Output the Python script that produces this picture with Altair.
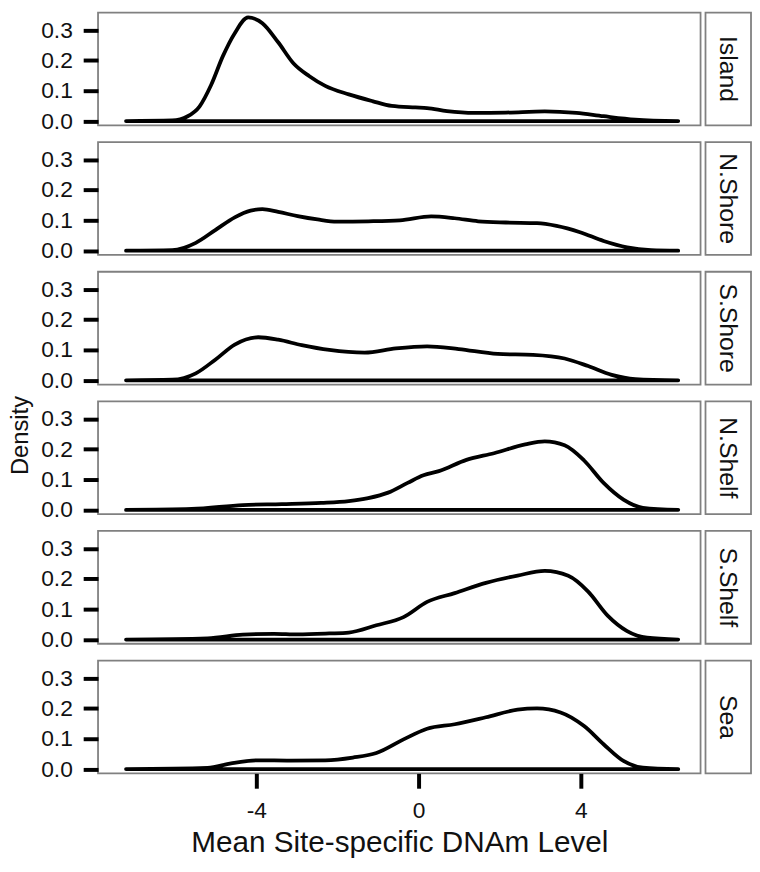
import altair as alt
import pandas as pd

FONT = "Liberation Sans"

groups = ["Island", "N.Shore", "S.Shore", "N.Shelf", "S.Shelf", "Sea"]

island_x = [-7.21, -6.07, -5.69, -5.40, -5.11, -4.82, -4.53, -4.20, -3.85, -3.46, -3.08, -2.69,
            -2.30, -1.72, -1.14, -0.66, -0.08, 0.21, 0.70, 1.37, 2.15, 3.11, 3.89, 4.56, 5.34, 6.40]
island_y = [0.0, 0.002, 0.016, 0.048, 0.12, 0.215, 0.29, 0.342, 0.323, 0.26, 0.19, 0.148,
            0.116, 0.088, 0.066, 0.050, 0.045, 0.043, 0.033, 0.027, 0.028, 0.032, 0.027, 0.016, 0.005, 0.0]

nshore_x = [-7.21, -6.07, -5.49, -5.01, -4.53, -4.14, -3.85, -3.46, -2.98, -2.49, -2.01, -1.24,
            -0.46, 0.31, 0.89, 1.47, 2.15, 2.92, 3.40, 3.98, 4.56, 5.14, 5.73, 6.40]
nshore_y = [0.0, 0.002, 0.026, 0.068, 0.11, 0.132, 0.137, 0.128, 0.114, 0.103, 0.096, 0.097,
            0.100, 0.113, 0.107, 0.097, 0.093, 0.091, 0.082, 0.061, 0.032, 0.011, 0.002, 0.0]

sshore_x = [-7.21, -6.07, -5.49, -5.01, -4.53, -3.95, -3.46, -2.88, -2.20, -1.33, -0.56, 0.21,
            0.99, 1.95, 2.82, 3.60, 4.18, 4.76, 5.34, 6.40]
sshore_y = [0.0, 0.002, 0.023, 0.068, 0.118, 0.142, 0.134, 0.116, 0.100, 0.091, 0.105, 0.112,
            0.103, 0.087, 0.084, 0.072, 0.047, 0.018, 0.004, 0.0]

nshelf_x = [-7.21, -5.59, -4.33, -3.37, -2.40, -1.72, -1.24, -0.75, -0.27, 0.12, 0.50, 1.18,
            1.86, 2.63, 3.11, 3.60, 4.08, 4.56, 5.05, 5.53, 6.40]
nshelf_y = [0.0, 0.003, 0.016, 0.019, 0.023, 0.029, 0.039, 0.057, 0.089, 0.114, 0.128, 0.165,
            0.187, 0.216, 0.226, 0.213, 0.163, 0.089, 0.034, 0.007, 0.0]

sshelf_x = [-7.21, -5.20, -4.33, -3.56, -2.98, -2.20, -1.72, -1.04, -0.37, 0.21, 0.89, 1.66,
            2.44, 3.11, 3.69, 4.18, 4.66, 5.14, 5.63, 6.40]
sshelf_y = [0.0, 0.004, 0.016, 0.019, 0.017, 0.020, 0.023, 0.047, 0.074, 0.124, 0.153, 0.187,
            0.211, 0.226, 0.210, 0.158, 0.079, 0.028, 0.006, 0.0]

sea_x = [-7.21, -5.20, -4.62, -3.95, -3.17, -2.30, -1.62, -1.04, -0.37, 0.21, 0.89, 1.66,
         2.44, 2.92, 3.50, 4.08, 4.56, 5.05, 5.53, 6.40]
sea_y = [0.0, 0.004, 0.019, 0.029, 0.028, 0.029, 0.038, 0.053, 0.098, 0.133, 0.148, 0.171,
         0.196, 0.200, 0.187, 0.142, 0.082, 0.027, 0.005, 0.0]

series_x = [island_x, nshore_x, sshore_x, nshelf_x, sshelf_x, sea_x]
series_y = [island_y, nshore_y, sshore_y, nshelf_y, sshelf_y, sea_y]

x_ticks = [-4, 0, 4]
y_ticks = [0.0, 0.1, 0.2, 0.3]

PANEL_W = 609
PANEL_H = 114
STRIP_W = 46
GAP = 17

panels = []
strips = []
for i, g in enumerate(groups):
    df = pd.DataFrame({"x": series_x[i], "y": series_y[i]})
    last = i == len(groups) - 1
    if last:
        xaxis = alt.Axis(values=x_ticks, labelExpr="'' + datum.value", title="Mean Site-specific DNAm Level",
                         domain=False, grid=False, tickColor="black", tickWidth=4, tickSize=15,
                         labelFontSize=23, labelPadding=12, labelColor="#111111",
                         titleFontSize=30, titleFontWeight="normal", titlePadding=5,
                         titleColor="#111111", labelFont=FONT, titleFont=FONT)
    else:
        xaxis = None
    ykw = dict(values=y_ticks, format=".1f", domain=False, grid=False,
               tickColor="black", tickWidth=4, tickSize=15, labelFontSize=23,
               labelPadding=11, labelColor="#111111", labelFont=FONT)
    if i == 3:
        yaxis = alt.Axis(title="Density", titleFontSize=24, titleFontWeight="normal",
                         titlePadding=8, titleColor="#111111", titleY=34, titleFont=FONT, **ykw)
    else:
        yaxis = alt.Axis(title=None, **ykw)
    panel = alt.Chart(df).mark_area(
        fillOpacity=0, stroke="black", strokeWidth=3.8, interpolate="monotone",
        strokeJoin="round", strokeCap="round"
    ).encode(
        x=alt.X("x:Q", scale=alt.Scale(domain=[-7.9, 6.95], nice=False, zero=False), axis=xaxis),
        y=alt.Y("y:Q", scale=alt.Scale(domain=[-0.014, 0.358], nice=False), axis=yaxis),
    ).properties(width=PANEL_W, height=PANEL_H)
    panels.append(panel)

    strip = alt.Chart(pd.DataFrame({"label": [g]})).mark_text(
        angle=90, fontSize=25, font=FONT, color="#111111", align="center", baseline="middle"
    ).encode(
        text="label:N",
        x=alt.value(STRIP_W / 2),
        y=alt.value(PANEL_H / 2),
    ).properties(width=STRIP_W, height=PANEL_H)
    strips.append(strip)

left = alt.vconcat(*panels, spacing=GAP).properties(bounds="flush")
right = alt.vconcat(*strips, spacing=GAP).properties(bounds="flush")

chart = alt.hconcat(left, right, spacing=3).properties(
    padding={"top": -1, "left": 0, "right": 0, "bottom": 0}, background="white"
).configure_view(
    stroke="#808080", strokeWidth=1.8, fill="white"
)

chart.save("out.html", embed_options={"renderer": "svg", "actions": False})
